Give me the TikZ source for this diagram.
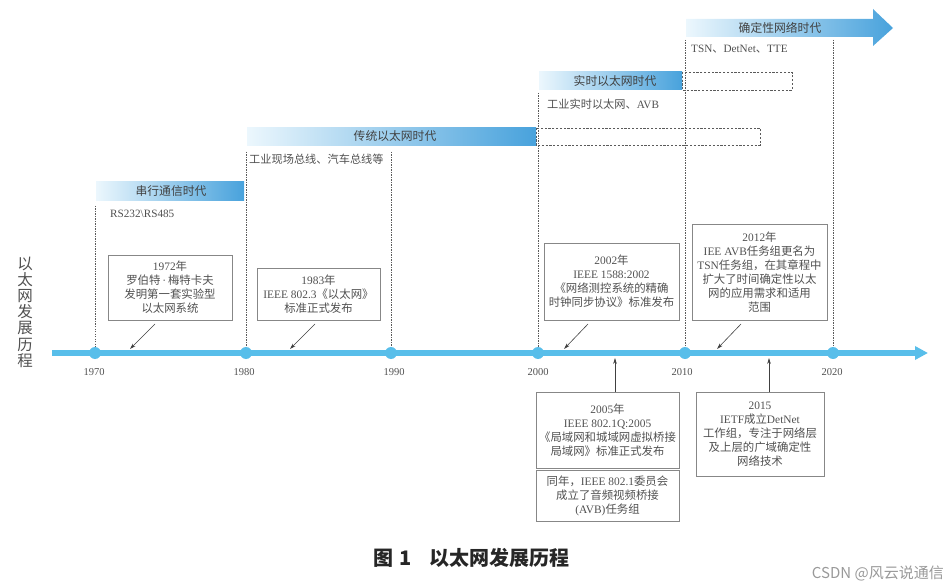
\documentclass[tikz,border=0pt]{standalone}
\usepackage{fontspec}
\setmainfont{Liberation Serif}
\newfontfamily\cjkf{Noto Sans CJK SC}
\newcount\cjkcc
\cjkcc="4E00 \loop \XeTeXcharclass\cjkcc=1 \advance\cjkcc by 1 \ifnum\cjkcc<"A000 \repeat
\cjkcc="3000 \loop \XeTeXcharclass\cjkcc=1 \advance\cjkcc by 1 \ifnum\cjkcc<"3040 \repeat
\cjkcc="FF00 \loop \XeTeXcharclass\cjkcc=1 \advance\cjkcc by 1 \ifnum\cjkcc<"FFF0 \repeat
\XeTeXinterchartokenstate=1
\XeTeXinterchartoks 0 1 = {\cjkf}
\XeTeXinterchartoks 1 0 = {\rmfamily}
\XeTeXinterchartoks 4095 1 = {\cjkf}
\XeTeXinterchartoks 4095 0 = {\rmfamily}
\usetikzlibrary{arrows.meta}
\definecolor{tl}{RGB}{88,190,234}
\definecolor{barL}{RGB}{236,247,253}
\definecolor{barR}{RGB}{72,162,220}
\definecolor{txt}{RGB}{80,80,80}
\definecolor{bartxt}{RGB}{65,65,65}
\definecolor{boxc}{RGB}{135,135,135}
\definecolor{dotc}{RGB}{90,90,90}
\tikzset{
 evbox/.style={draw=boxc, line width=0.8pt, inner sep=0pt, align=center, text=txt, font=\fontsize{11.4}{14}\selectfont},
 eraband/.style={shade, left color=barL, right color=barR, inner sep=0pt, text=bartxt, font=\fontsize{11.8}{12}\selectfont},
 bartext/.style={text=bartxt, font=\fontsize{11.8}{12}\selectfont, inner sep=0pt},
 subtext/.style={anchor=west, text=txt, font=\fontsize{11.2}{12}\selectfont, inner sep=0pt},
 yeartext/.style={text=txt, font=\fontsize{10.5}{10}\selectfont, inner sep=0pt},
 eraline/.style={draw=dotc, line width=0.8pt, dash pattern=on 1.2pt off 1.3pt},
 extbox/.style={draw=dotc, line width=0.8pt, dash pattern=on 2.2pt off 1.6pt},
 ptr/.style={draw=black!75, line width=0.6pt, -{Stealth[length=6pt 0 0,width=3.6pt 0 0]}},
 dotn/.style={circle, fill=tl, minimum size=12pt, inner sep=0pt},
}
\begin{document}
\begin{tikzpicture}[x=1pt,y=-1pt]
\useasboundingbox (0,0) rectangle (948,588);

% timeline points
\coordinate (p1970) at (95,353);
\coordinate (p1980) at (246,353);
\coordinate (p1990) at (391,353);
\coordinate (p2000) at (538,353);
\coordinate (p2010) at (685,353);
\coordinate (p2020) at (833,353);

% era dotted verticals
\coordinate (v1970) at (95,206);
\coordinate (v1980) at (246,152);
\coordinate (v1990) at (391,152);
\coordinate (v2000) at (538,93);
\coordinate (v2010) at (685,40);
\coordinate (v2020) at (833,40);
\foreach \y in {1970,1980,1990,2000,2010,2020}{\draw[eraline] (v\y) -- (p\y);}

% dashed extensions
\draw[extbox] (536,128) rectangle (760,145);
\draw[extbox] (682,72) rectangle (792,90);

% era bars
\node[eraband, minimum width=148pt, minimum height=19pt] (era1) at (170,191.5) {\hspace{2pt}串行通信时代};
\node[eraband, minimum width=289pt, minimum height=18pt] (era2) at (391.5,136.5) {\hspace{7pt}传统以太网时代};
\node[eraband, minimum width=143pt, minimum height=18pt] (era3) at (610.5,81) {\hspace{9pt}实时以太网时代};
\shade[left color=barL, right color=barR] (686,19) -- (873,19) -- (873,9) -- (893,28) -- (873,46) -- (873,37) -- (686,37) -- cycle;
\node[bartext] (era4) at (780,28) {确定性网络时代};

% era sub-texts
\node[subtext] (s1) at (110,214) {RS232\textbackslash RS485};
\node[subtext] (s2) at (249,159) {工业现场总线、汽车总线等};
\node[subtext] (s3) at (547,104) {工业实时以太网、AVB};
\node[subtext] (s4) at (691,49) {TSN、DetNet、TTE};

% timeline
\coordinate (t0) at (52,353);
\coordinate (t1) at (928,353);
\draw[line width=6pt, tl, -{Triangle[length=13pt 0 0,width=13pt 0 0]}] (t0) -- (t1);
\foreach \y in {1970,1980,1990,2000,2010,2020}{\node[dotn] (d\y) at (p\y) {};}

% years
\node[yeartext] (y1970) at (94,372) {1970};
\node[yeartext] (y1980) at (244,372) {1980};
\node[yeartext] (y1990) at (394,372) {1990};
\node[yeartext] (y2000) at (538,372) {2000};
\node[yeartext] (y2010) at (682,372) {2010};
\node[yeartext] (y2020) at (832,372) {2020};

% left label
\node[text=txt, align=center, inner sep=0pt, font=\fontsize{15.5}{16.2}\selectfont] (lbl) at (25,312) {以\\太\\网\\发\\展\\历\\程};

% upper event boxes
\node[evbox, minimum width=124pt, minimum height=65pt] (b1972) at (170,287.5) {1972年\\罗伯特\,·\,梅特卡夫\\发明第一套实验型\\以太网系统};
\node[evbox, minimum width=123pt, minimum height=52pt] (b1983) at (318.5,294) {1983年\\IEEE 802.3《以太网》\\标准正式发布};
\node[evbox, minimum width=135pt, minimum height=77pt] (b2002) at (611.5,281.5) {2002年\\IEEE 1588:2002\\《网络测控系统的精确\\时钟同步协议》标准发布};
\node[evbox, minimum width=135pt, minimum height=96pt] (b2012) at (759.5,272) {2012年\\IEE AVB任务组更名为\\TSN任务组，在其章程中\\扩大了时间确定性以太\\网的应用需求和适用\\范围};

% lower event boxes
\node[evbox, minimum width=143pt, minimum height=76pt] (b2005) at (607.5,430) {2005年\\IEEE 802.1Q:2005\\《局域网和城域网虚拟桥接\\局域网》标准正式发布};
\node[evbox, minimum width=143pt, minimum height=51pt] (b2005b) at (607.5,495.5) {同年，IEEE 802.1委员会\\成立了音频视频桥接\\(AVB)任务组};
\node[evbox, minimum width=128pt, minimum height=84pt] (b2015) at (760,434) {2015\\IETF成立DetNet\\工作组，专注于网络层\\及上层的广域确定性\\网络技术};

% pointers
\coordinate (a1s) at (155,324); \coordinate (a1e) at (130,349);
\coordinate (a2s) at (315,324); \coordinate (a2e) at (290,349);
\coordinate (a3s) at (588,324); \coordinate (a3e) at (564,349);
\coordinate (a4s) at (741,324); \coordinate (a4e) at (717,349);
\draw[ptr] (a1s) -- (a1e);
\draw[ptr] (a2s) -- (a2e);
\draw[ptr] (a3s) -- (a3e);
\draw[ptr] (a4s) -- (a4e);
\coordinate (a5s) at (615,392); \coordinate (a5e) at (615,358);
\coordinate (a6s) at (769,392); \coordinate (a6e) at (769,358);
\draw[ptr] (a5s) -- (a5e);
\draw[ptr] (a6s) -- (a6e);

% caption
\node[anchor=west, inner sep=0pt, text=black!85] (cap) at (373,558) {\XeTeXinterchartokenstate=0 \cjkf\bfseries\fontsize{20}{20}\selectfont 图\hspace{6pt}1\hspace{18pt}以太网发展历程};

% watermark
\node[anchor=east, inner sep=0pt, text=black!40] (wm) at (944,573) {\XeTeXinterchartokenstate=0 \cjkf\fontsize{15}{15}\selectfont CSDN @风云说通信};
\end{tikzpicture}
\end{document}
